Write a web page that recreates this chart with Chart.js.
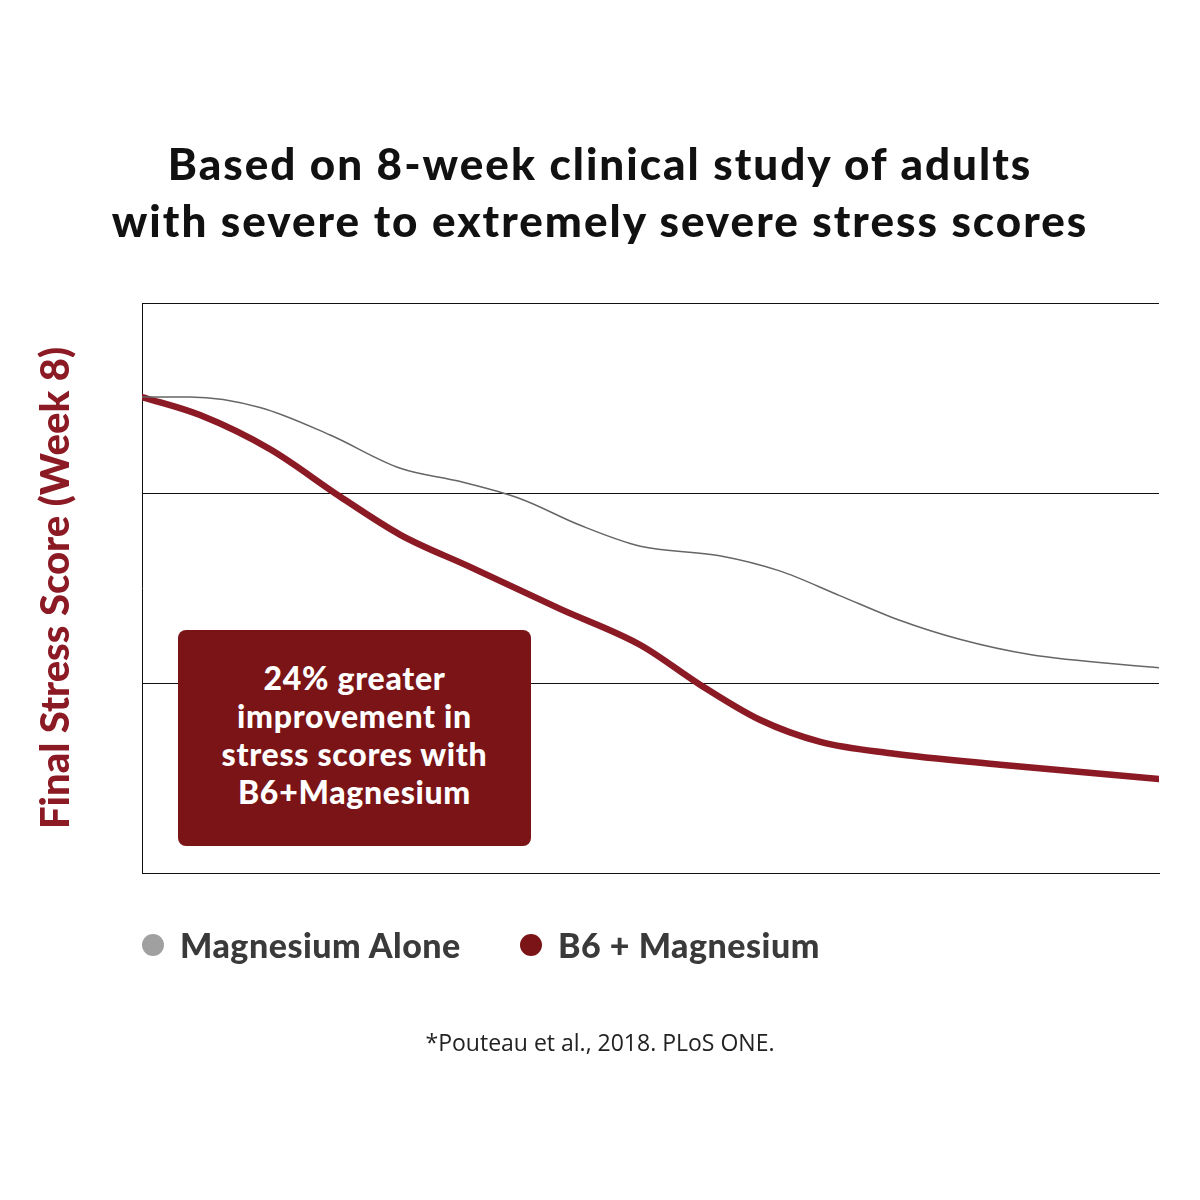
<!DOCTYPE html>
<html>
<head>
<meta charset="utf-8">
<script src="https://cdn.jsdelivr.net/npm/chart.js@4"></script>
<style>
  html, body { margin: 0; padding: 0; background: #fff; }
  #wrap { position: relative; width: 1200px; height: 1200px; font-family: Lato, "Open Sans", sans-serif; }
  #chart { position: absolute; left: 0; top: 0; }
  .title { position: absolute; left: 0; width: 1200px; top: 135px; text-align: center;
           font-size: 44px; font-weight: 900; line-height: 57px; color: #111; letter-spacing: 2px; }
  .callout { position: absolute; left: 178px; top: 630px; width: 353px; height: 216px;
             background: #7b1416; border-radius: 8px; color: #fff; display: flex;
             align-items: center; justify-content: center; text-align: center;
             font-size: 32px; font-weight: 900; line-height: 38px; letter-spacing: 0.7px;
             padding-bottom: 6px; box-sizing: border-box; }
  .legend { position: absolute; top: 0; left: 0; }
  .legend span.item { position: absolute; top: 924px; display: flex; align-items: center; white-space: nowrap;
                      font-size: 34px; font-weight: 900; color: #3a3a3a; letter-spacing: 0.5px; }
  .legend i { display: inline-block; width: 22px; height: 22px; border-radius: 50%; margin-right: 16px; }
  .note { position: absolute; left: 0; width: 1200px; top: 1026px; text-align: center;
          font-size: 23px; color: #222; font-family: "Liberation Sans Narrow", "Open Sans", sans-serif; }
</style>
</head>
<body>
<div id="wrap">
  <canvas id="chart" width="1200" height="1200"></canvas>
  <div class="title">Based on 8-week clinical study of adults<br>with severe to extremely severe stress scores</div>
  <div class="callout">24% greater<br>improvement in<br>stress scores with<br>B6+Magnesium</div>
  <div class="legend" id="legend"></div>
  <div class="note">*Pouteau et al., 2018. PLoS ONE.</div>
</div>
<script>
// x: progress through the study (0-100), y: stress score (relative units)
const seriesNames = ['Magnesium Alone', 'B6 + Magnesium'];
const seriesColors = ['#666666', '#8b1a24'];
const dotColors = ['#a0a0a0', '#7b1416'];
const legendLeft = [142, 520];

const magX = [0, 4.7, 11.6, 18.5, 25.4, 31.3, 37.2, 43.1, 49.0, 56.8, 62.7, 68.6, 74.5, 80.4, 87.3, 100];
const magY = [25.05, 25.05, 24.5, 23.05, 21.3, 20.6, 19.7, 18.3, 17.2, 16.7, 15.9, 14.6, 13.3, 12.3, 11.5, 10.8];

const b6X = [0, 5.7, 12.6, 19.5, 25.4, 32.3, 41.1, 49.0, 54.9, 60.8, 66.7, 73.6, 84.4, 100];
const b6Y = [25.05, 24.1, 22.3, 19.8, 17.8, 16.1, 13.9, 12.0, 9.9, 8.05, 6.9, 6.3, 5.7, 4.95];

const toPoints = (xs, ys) => xs.map((x, i) => ({ x: x, y: ys[i] }));

document.addEventListener('DOMContentLoaded', function() {
    const ctx = document.getElementById('chart').getContext('2d');
    new Chart(ctx, {
        type: 'line',
        data: {
            datasets: [{
                label: seriesNames[0],
                data: toPoints(magX, magY),
                borderColor: seriesColors[0],
                borderWidth: 1.5,
                pointRadius: 0,
                cubicInterpolationMode: 'monotone'
            }, {
                label: seriesNames[1],
                data: toPoints(b6X, b6Y),
                borderColor: seriesColors[1],
                borderWidth: 6.5,
                borderCapStyle: 'round',
                pointRadius: 0,
                cubicInterpolationMode: 'monotone'
            }]
        },
        options: {
            responsive: false,
            animation: false,
            layout: { padding: { left: 0, top: 303, right: 41, bottom: 327 } },
            scales: {
                x: {
                    type: 'linear',
                    min: 0,
                    max: 100,
                    ticks: { display: false },
                    grid: { display: false },
                    border: { display: true, color: '#111', width: 1 },
                    afterFit: function(scale) { scale.height = 0; }
                },
                y: {
                    min: 0,
                    max: 30,
                    ticks: { display: false, stepSize: 10 },
                    grid: { color: '#111', lineWidth: 1, drawTicks: false },
                    border: { display: true, color: '#111', width: 1 },
                    title: {
                        display: true,
                        text: 'Final Stress Score (Week 8)',
                        color: '#8b1a24',
                        font: { family: 'Lato', size: 40, weight: '900' },
                        padding: { top: 32, bottom: 0 }
                    },
                    afterFit: function(scale) { scale.width = 142; }
                }
            },
            plugins: {
                legend: { display: false },
                tooltip: { enabled: false }
            }
        }
    });

    // legend built from the series arrays
    const legend = document.getElementById('legend');
    seriesNames.forEach(function(name, i) {
        const item = document.createElement('span');
        item.className = 'item';
        item.style.left = legendLeft[i] + 'px';
        item.innerHTML = '<i style="background:' + dotColors[i] + '"></i>' + name;
        legend.appendChild(item);
    });
});
</script>
</body>
</html>
